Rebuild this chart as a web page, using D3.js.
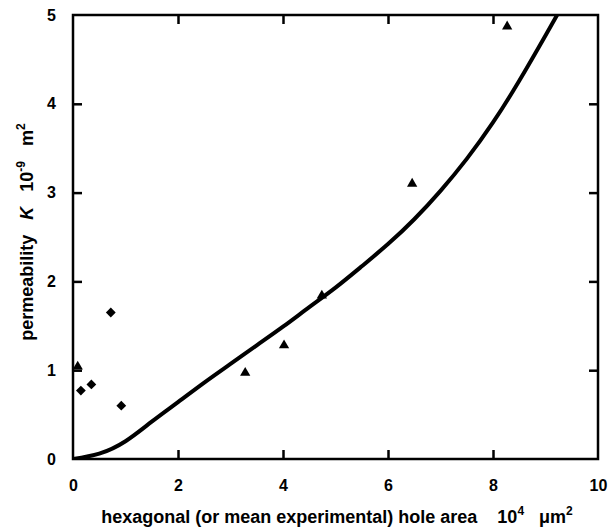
<!DOCTYPE html>
<html>
<head>
<meta charset="utf-8">
<script src="https://cdn.jsdelivr.net/npm/d3@7"></script>
<style>
  html, body { margin: 0; padding: 0; background: #fff; }
  svg { display: block; }
  text { font-family: "Liberation Sans", Arial, Helvetica, sans-serif; font-weight: 700; fill: #000; }
</style>
</head>
<body>
<svg id="chart" width="610" height="527"></svg>
<script>
// ---- data ----
const xTicks = [0, 2, 4, 6, 8, 10];
const yTicks = [0, 1, 2, 3, 4, 5];

// model curve (hexagonal holes)
const curveX = [0, 0.5, 1.0, 1.5, 2.0, 2.5, 3.0, 3.5, 4.0, 4.5, 5.0, 5.5, 6.0, 6.5, 7.0, 7.5, 8.0, 8.5, 9.0, 9.25];
const curveY = [0, 0.06, 0.20, 0.42, 0.64, 0.86, 1.07, 1.28, 1.49, 1.71, 1.93, 2.17, 2.42, 2.70, 3.02, 3.38, 3.79, 4.26, 4.77, 5.03];

// diamonds
const diamondX = [0.15, 0.35, 0.72, 0.92];
const diamondY = [0.77, 0.84, 1.65, 0.60];

// triangles
const triangleX = [0.09, 3.28, 4.02, 4.74, 6.46, 8.27];
const triangleY = [1.04, 0.97, 1.28, 1.84, 3.10, 4.87];

// ---- layout ----
const svg = d3.select("#chart");
const margin = { left: 73, top: 15, right: 12, bottom: 68 };
const W = 610, H = 527;
const x = d3.scaleLinear().domain([0, 10]).range([margin.left, W - margin.right]);
const y = d3.scaleLinear().domain([0, 5]).range([H - margin.bottom, margin.top]);

const x0 = x(0), x1 = x(10), y0 = y(0), y1 = y(5);

svg.append("defs").append("clipPath").attr("id", "clip")
  .append("rect").attr("x", x0).attr("y", y1).attr("width", x1 - x0).attr("height", y0 - y1);

// curve
const pts = curveX.map((d, i) => [d, curveY[i]]);
svg.append("path")
  .attr("clip-path", "url(#clip)")
  .attr("d", d3.line().x(d => x(d[0])).y(d => y(d[1])).curve(d3.curveNatural)(pts))
  .attr("fill", "none").attr("stroke", "#000").attr("stroke-width", 4);

// markers
const diamond = d3.symbol().type(d3.symbolSquare).size(48);
svg.append("g").selectAll("path").data(diamondX.map((d, i) => [d, diamondY[i]])).join("path")
  .attr("transform", d => `translate(${x(d[0])},${y(d[1])}) rotate(45)`)
  .attr("d", diamond).attr("fill", "#000");

const tri = d3.symbol().type(d3.symbolTriangle).size(46);
svg.append("g").selectAll("path").data(triangleX.map((d, i) => [d, triangleY[i]])).join("path")
  .attr("transform", d => `translate(${x(d[0])},${y(d[1])})`)
  .attr("d", tri).attr("fill", "#000");

// frame
svg.append("rect").attr("x", x0).attr("y", y1).attr("width", x1 - x0).attr("height", y0 - y1)
  .attr("fill", "none").attr("stroke", "#000").attr("stroke-width", 2.5);

// ticks (inward, all sides)
const tl = 9;
const axB = d3.axisBottom(x).tickValues(xTicks).tickSizeInner(-tl).tickSizeOuter(0).tickPadding(21).tickFormat(d3.format("d"));
const gB = svg.append("g").attr("transform", `translate(0,${y0})`).call(axB);
const axT = d3.axisTop(x).tickValues(xTicks.slice(1, -1)).tickSizeInner(-tl).tickSizeOuter(0).tickFormat("");
const gT = svg.append("g").attr("transform", `translate(0,${y1})`).call(axT);
const axL = d3.axisLeft(y).tickValues(yTicks).tickSizeInner(-tl).tickSizeOuter(0).tickPadding(17).tickFormat(d3.format("d"));
const gL = svg.append("g").attr("transform", `translate(${x0},0)`).call(axL);
const axR = d3.axisRight(y).tickValues(yTicks.slice(1, -1)).tickSizeInner(-tl).tickSizeOuter(0).tickFormat("");
const gR = svg.append("g").attr("transform", `translate(${x1},0)`).call(axR);

[gB, gT, gL, gR].forEach(g => {
  g.attr("font-family", null).attr("font-size", null);
  g.select(".domain").remove();
  g.selectAll(".tick line").attr("stroke", "#000").attr("stroke-width", 2.5);
  g.selectAll(".tick text").attr("font-size", 16).attr("font-weight", 700)
    .attr("font-family", '"Liberation Sans", Arial, sans-serif').attr("fill", "#000");
});
gB.selectAll(".tick line").filter(d => d === 0 || d === 10).remove();
gL.selectAll(".tick line").filter(d => d === 0 || d === 5).remove();

// x title
const sp = n => "\u00a0".repeat(n);
const xt = svg.append("text").attr("x", 337).attr("y", 523).attr("text-anchor", "middle")
  .attr("font-size", 18).attr("font-weight", 700);
xt.append("tspan").text("hexagonal (or mean experimental) hole area" + sp(4) + "10");
xt.append("tspan").attr("dy", -8).attr("font-size", 12).text("4");
xt.append("tspan").attr("dy", 8).text(sp(3) + "\u03bcm");
xt.append("tspan").attr("dy", -8).attr("font-size", 12).text("2");

// y title
const yt = svg.append("text").attr("transform", `translate(33,232) rotate(-90)`).attr("text-anchor", "middle")
  .attr("font-size", 18).attr("font-weight", 700);
yt.append("tspan").text("permeability" + sp(3));
yt.append("tspan").attr("font-style", "italic").text("K");
yt.append("tspan").text(sp(3) + "10");
yt.append("tspan").attr("dy", -8).attr("font-size", 12).text("-9");
yt.append("tspan").attr("dy", 8).text(sp(3) + "m");
yt.append("tspan").attr("dy", -8).attr("font-size", 12).text("2");
</script>
</body>
</html>
